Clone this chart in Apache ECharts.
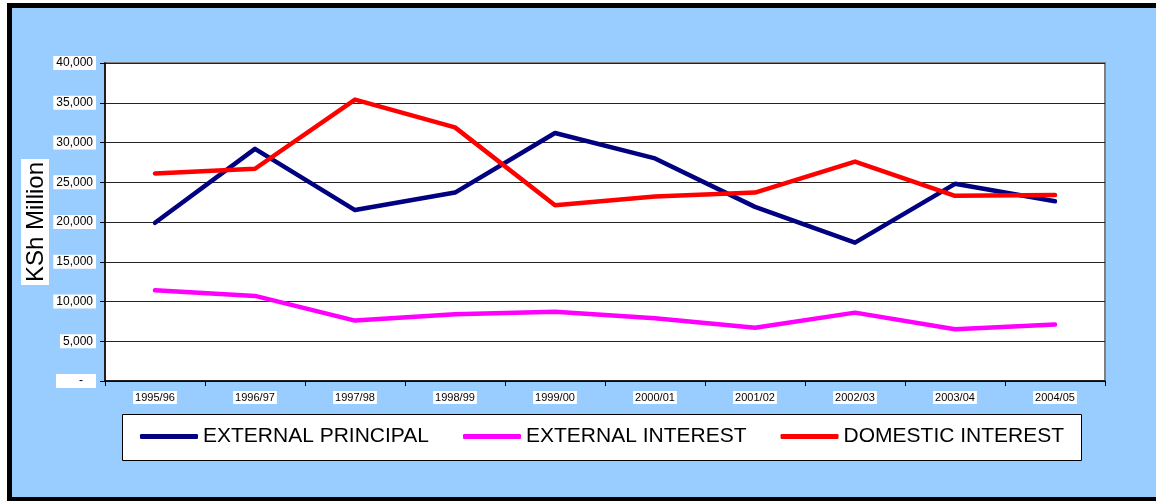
<!DOCTYPE html>
<html>
<head>
<meta charset="utf-8">
<script src="https://cdn.jsdelivr.net/npm/echarts@6/dist/echarts.min.js"></script>
<style>
html,body{margin:0;padding:0;background:#fff;}
#chart{width:1156px;height:501px;}
</style>
</head>
<body>
<div id="chart"></div>
<script>
const categories = ['1995/96','1996/97','1997/98','1998/99','1999/00','2000/01','2001/02','2002/03','2003/04','2004/05'];
const externalPrincipal = [19900, 29200, 21500, 23700, 31200, 28000, 21900, 17400, 24800, 22600];
const externalInterest  = [11400, 10700, 7600, 8400, 8700, 7900, 6700, 8600, 6500, 7100];
const domesticInterest  = [26100, 26700, 35400, 31900, 22100, 23200, 23700, 27600, 23300, 23400];
const seriesNames = ['EXTERNAL PRINCIPAL', 'EXTERNAL INTEREST', 'DOMESTIC INTEREST'];
const yAxisName = 'KSh Million';

const chart = echarts.init(document.getElementById('chart'), null, {renderer: 'canvas'});
const font = 'Arial, "Liberation Sans", sans-serif';
function lineSeries(name, data, color) {
  return {
    name: name, type: 'line', data: data, symbol: 'none',
    lineStyle: {color: color, width: 4.5, cap: 'round', join: 'round'},
    itemStyle: {color: color},
    emphasis: {disabled: true}, animation: false
  };
}
chart.setOption({
  animation: false,
  backgroundColor: '#fff',
  graphic: [
    {type: 'rect', z: -10, silent: true,
     shape: {x: 9.5, y: 5.5, width: 1200, height: 494},
     style: {fill: '#99CCFF', stroke: '#000', lineWidth: 5}},
    {type: 'rect', z: -5, silent: true,
     shape: {x: 122.5, y: 414.5, width: 959, height: 46},
     style: {fill: '#fff', stroke: '#000', lineWidth: 1}}
  ],
  grid: {left: 105, top: 63, right: 51, bottom: 120, show: true,
         backgroundColor: '#fff', borderColor: '#808080', borderWidth: 2},
  legend: {
    data: seriesNames, left: 140, top: 426, itemGap: 34, padding: 0,
    itemWidth: 58, itemHeight: 5, icon: 'roundRect',
    textStyle: {fontFamily: font, fontSize: 21, color: '#000'}
  },
  xAxis: {
    type: 'category', data: categories, boundaryGap: true,
    axisLine: {lineStyle: {color: '#000', width: 1.5}},
    axisTick: {show: true, inside: false, length: 5, lineStyle: {color: '#000'}},
    axisLabel: {fontFamily: font, fontSize: 11, color: '#000', margin: 10,
                backgroundColor: '#fff', padding: [1, 2, 1, 2]},
    splitLine: {show: false}
  },
  yAxis: {
    type: 'value', min: 0, max: 40000, interval: 5000,
    name: yAxisName, nameLocation: 'middle', nameGap: 56, nameRotate: 90,
    nameMoveOverlap: false,
    nameTextStyle: {fontFamily: font, fontSize: 24, color: '#000',
                    backgroundColor: '#fff', padding: [3, 3, 1, 3]},
    axisLine: {show: true, lineStyle: {color: '#000', width: 1.5}},
    axisTick: {show: true, inside: false, length: 5, lineStyle: {color: '#000'}},
    axisLabel: {fontFamily: font, fontSize: 12, color: '#000', margin: 9,
                backgroundColor: '#fff', padding: [1, 3, 1, 3],
                formatter: function (v) { return v === 0 ? '      -   ' : v.toLocaleString('en-US'); }},
    splitLine: {show: true, lineStyle: {color: '#222', width: 1}}
  },
  series: [
    lineSeries(seriesNames[0], externalPrincipal, '#000080'),
    lineSeries(seriesNames[1], externalInterest, '#FF00FF'),
    lineSeries(seriesNames[2], domesticInterest, '#FF0000')
  ]
});
</script>
</body>
</html>
